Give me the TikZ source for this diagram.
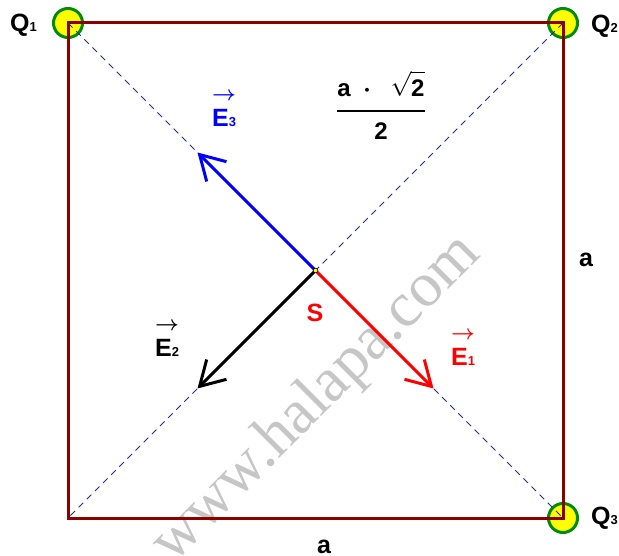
\documentclass[tikz,border=0pt]{standalone}
\usepackage{fontspec}
\usepackage{amsmath}
\setmainfont{Liberation Sans}
\newfontfamily\wmfont{Liberation Serif}
\usetikzlibrary{arrows.meta}
\definecolor{sqred}{RGB}{140,0,0}
\definecolor{diagblue}{RGB}{40,40,160}
\definecolor{qgreen}{RGB}{0,140,0}
\definecolor{qyellow}{RGB}{255,255,0}
\definecolor{wmgray}{RGB}{198,198,198}
\definecolor{vred}{RGB}{255,0,0}
\definecolor{vblue}{RGB}{0,0,255}
\newcommand{\sbs}[1]{{\fontsize{13}{13}\selectfont #1}}
\newcommand{\vecmark}{\makebox[0pt][l]{\raisebox{26pt}{\fontsize{21}{21}\selectfont\boldmath$\rightarrow$}}}
\tikzset{
  charge/.style={circle, draw=qgreen, fill=qyellow, line width=3pt, minimum size=29pt, inner sep=0pt},
  side/.style={draw=sqred, line width=3pt, line join=miter},
  diag/.style={draw=diagblue, line width=0.9pt, dash pattern=on 6.5pt off 5pt},
  fieldvec/.style={line width=3pt, -{Straight Barb[length=24pt,width=28pt]}},
  lbl/.style={inner sep=0pt, font=\fontsize{25}{29}\selectfont\bfseries},
  sdot/.style={circle, fill=qyellow, draw=black, line width=0.6pt, minimum size=4.6pt, inner sep=0pt},
}
\begin{document}
\begin{tikzpicture}[x=1pt,y=-1pt]
\useasboundingbox (0,0) rectangle (619,556);
% watermark
\node[rotate=45, anchor=base, inner sep=0pt, text=wmgray, font=\wmfont\fontsize{63}{63}\selectfont] (wm) at (328,410) {www.halapa.com};
% charges and corners
\node[charge] (q1) at (68,23) {};
\node[charge] (q2) at (563,23) {};
\node[charge] (q3) at (563,518) {};
\coordinate (c4) at (68,518);
\coordinate (s) at (315.5,270.5);
% square
\draw[side] (q1.center) -- (q2.center) -- (q3.center) -- (c4) -- cycle;
% diagonals
\draw[diag] (q1.center) -- (q3.center);
\draw[diag] (q2.center) -- (c4);
% field vectors
\coordinate (t3) at (197.5,152.5);
\coordinate (t2) at (197.5,388.5);
\coordinate (t1) at (433.5,388.5);
\draw[fieldvec, draw=vblue] (s) -- (t3);
\draw[fieldvec, draw=black] (s) -- (t2);
\draw[fieldvec, draw=vred] (s) -- (t1);
\node[sdot] (sd) at (s) {};
% labels
\node[lbl, anchor=base west] (lq1) at (10,32) {Q\sbs{1}};
\node[lbl, anchor=base west] (lq2) at (591,33) {Q\sbs{2}};
\node[lbl, anchor=base west] (lq3) at (591,524) {Q\sbs{3}};
\node[lbl, anchor=base west] (la1) at (579,267) {a};
\node[lbl, anchor=base] (la2) at (324,553) {a};
\node[lbl, anchor=base, text=vred] (ls) at (315,322) {S};
\node[lbl, anchor=base west, text=vred] (le1) at (451,365) {\vecmark E\sbs{1}};
\node[lbl, anchor=base west, text=black] (le2) at (155,356) {\vecmark E\sbs{2}};
\node[lbl, anchor=base west, text=vblue] (le3) at (212,127) {\vecmark E\sbs{3}};
\node[inner sep=0pt, anchor=base, font=\fontsize{24}{28}\selectfont\bfseries] (frac) at (381,117.5)
  {\nulldelimiterspace=3pt$\displaystyle\genfrac{}{}{1.8pt}{0}{\rule[-8.5pt]{0pt}{0pt}\mbox{a}\;\boldsymbol{\cdot}\;\;\sqrt{\rule{0pt}{22pt}\mbox{2}}}{\rule{0pt}{21.5pt}\mbox{2}}$};
\end{tikzpicture}
\end{document}
